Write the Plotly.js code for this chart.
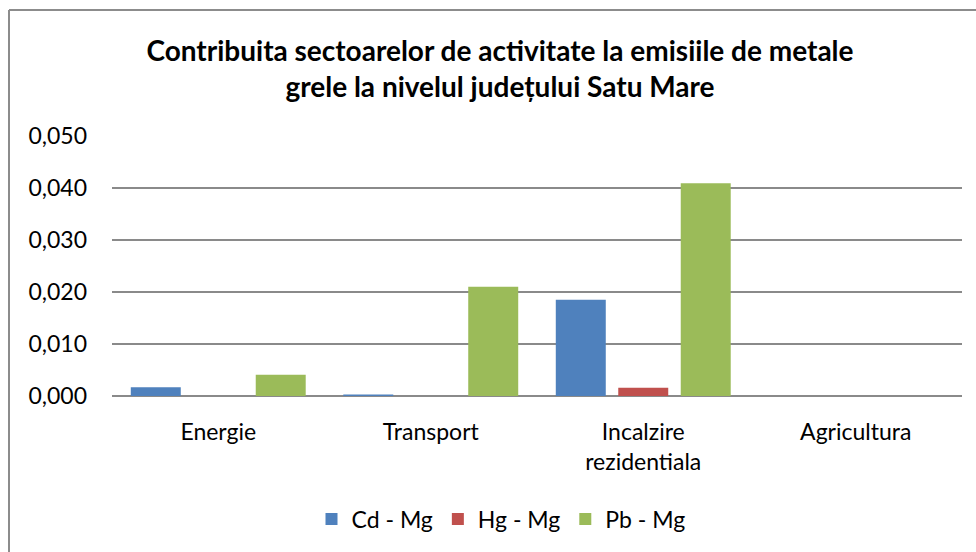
<!DOCTYPE html>
<html>
<head>
<meta charset="utf-8">
<script src="https://cdn.plot.ly/plotly-3.0.1.min.js"></script>
<style>html,body{margin:0;padding:0;background:#fff;overflow:hidden;}#chart{width:976px;height:552px;}</style>
</head>
<body>
<div id="chart"></div>
<script>
const categories = ["Energie", "Transport", "Incalzire<br>rezidentiala", "Agricultura"];
const cdValues = [0.0017, 0.0003, 0.0185, 0.0];
const hgValues = [0.0, 0.0, 0.0016, 0.0];
const pbValues = [0.0041, 0.0210, 0.0409, 0.0];
const seriesNames = ["Cd - Mg", "Hg - Mg", "Pb - Mg"];
const colors = ["#4F81BD", "#C0504D", "#9BBB59"];
const yTicks = [0, 0.01, 0.02, 0.03, 0.04, 0.05];

const font = "Lato, 'Open Sans', sans-serif";
const data = [cdValues, hgValues, pbValues].map((vals, i) => ({
  type: "bar",
  x: categories,
  y: vals,
  name: seriesNames[i],
  marker: {color: colors[i]},
  hoverinfo: "x+y+name"
}));

const L = 112, R = 14, T = 136, B = 156;
const W = 976 - L - R, H = 552 - T - B;
const px = v => (v - L) / W;
const py = v => (552 - B - v) / H;

const layout = {
  width: 976, height: 552,
  margin: {l: L, r: R, t: T, b: B, pad: 0},
  paper_bgcolor: "#fff", plot_bgcolor: "#fff",
  font: {family: font, size: 23, color: "#000"},
  title: {
    text: "<b>Contribuita sectoarelor de activitate la emisiile de metale<br>grele la nivelul județului Satu Mare</b>",
    font: {family: font, size: 28, color: "#000"},
    x: 500/976, xanchor: "center", xref: "container",
    y: 1 - 61/552, yanchor: "middle", yref: "container"
  },
  barmode: "group",
  bargap: 0.118,
  bargroupgap: 0.2,
  xaxis: {
    type: "category",
    showgrid: false, showline: false, zeroline: false,
    ticks: "", tickfont: {family: font, size: 23, color: "#000"},
    ticklabelstandoff: 20
  },
  yaxis: {
    range: [0, 0.05],
    tickvals: yTicks,
    tickformat: ".3f",
    showgrid: true, gridcolor: "#8a8a8a", gridwidth: 1.3,
    zeroline: true, zerolinecolor: "#8a8a8a", zerolinewidth: 1.5,
    showline: false, ticks: "",
    tickfont: {family: font, size: 23, color: "#000"},
    ticklabelstandoff: 24
  },
  separators: ",.",
  showlegend: true,
  legend: {
    orientation: "h",
    x: px(501), xanchor: "center",
    y: py(519), yanchor: "middle",
    font: {family: font, size: 23, color: "#000"},
    itemwidth: 30, traceorder: "normal"
  },
  shapes: [
    {type: "line", xref: "paper", yref: "paper",
     x0: px(9), x1: px(9), y0: py(560), y1: py(10),
     line: {color: "#8c8c8c", width: 2}},
    {type: "line", xref: "paper", yref: "paper",
     x0: px(9), x1: px(980), y0: py(10), y1: py(10),
     line: {color: "#8c8c8c", width: 2}}
  ]
};

Plotly.newPlot("chart", data, layout, {displayModeBar: false, staticPlot: true});
</script>
</body>
</html>
